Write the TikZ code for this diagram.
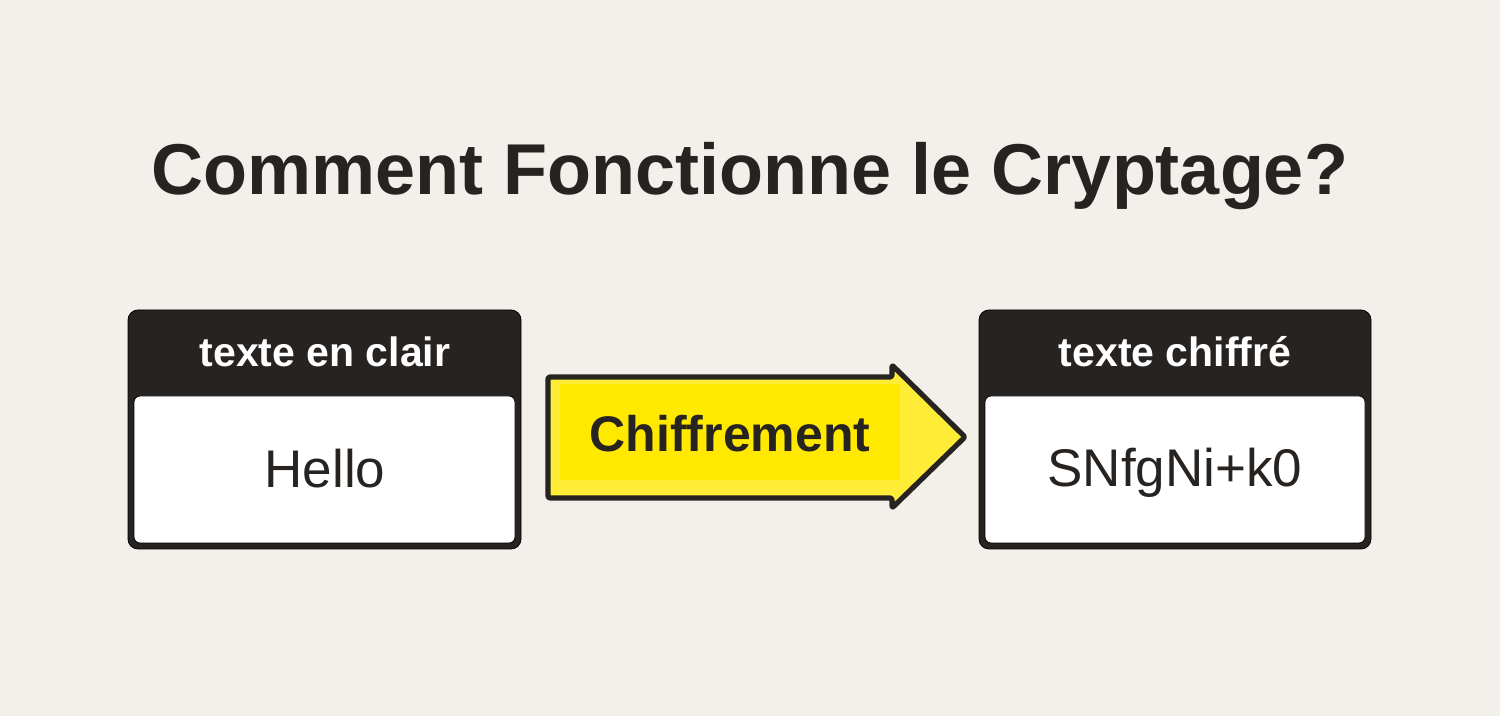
\documentclass[tikz,border=0pt]{standalone}
\usepackage{fontspec}
\setmainfont{Liberation Sans}
\definecolor{fond}{HTML}{F3F0EB}
\definecolor{encre}{HTML}{262321}
\definecolor{jaune}{HTML}{FFE900}
\definecolor{jauneclair}{HTML}{FFEC36}
\tikzset{
  boite/.style={fill=encre, rounded corners=5pt},
  corps/.style={fill=white, rounded corners=3pt},
  entete/.style={text=white, anchor=base, font=\fontsize{20.5}{24}\selectfont\bfseries},
  contenu/.style={text=encre, anchor=base, font=\fontsize{26.5}{30}\selectfont},
}

\begin{document}
\begin{tikzpicture}[x=0.5pt, y=-0.5pt]
			%%%%% FOND %%%%%
			\fill[fond] (0, 0) rectangle (1500, 716);
			\useasboundingbox (0, 0) rectangle (1500, 716);
			
			\node[text=encre, anchor=base, font=\fontsize{36}{40}\selectfont\bfseries] (titre) at (750, 195) {Comment Fonctionne le Cryptage?};
			
			%%%%% TEXTE EN CLAIR %%%%%
			\draw[boite] (128, 310) rectangle (521, 549);
			\draw[corps] (134, 396) rectangle (515, 543);
			\node[entete] (clair) at (325, 367) {texte en clair};
			\node[contenu] (hello) at (325, 488) {Hello};
			
			%%%%% FLECHE %%%%%
			\coordinate (queue) at (548, 437);
			\coordinate (pointe) at (965, 437);
			\draw[fill=jauneclair, draw=encre, line width=2.6pt, line join=round, rounded corners=1pt]
				(548, 377) -- (892, 377) -- (892, 365) -- (pointe) -- (892, 508) -- (892, 498) -- (548, 498) -- cycle;
			\fill[jaune] (560, 384) rectangle (900, 480);
			\node[text=encre, anchor=base, font=\fontsize{25}{30}\selectfont\bfseries] (chiff) at (730, 452) {Chiffrement};
			
			%%%%% TEXTE CHIFFRE %%%%%
			\draw[boite] (979, 310) rectangle (1371, 549);
			\draw[corps] (985, 396) rectangle (1365, 543);
			\node[entete] (chiffre) at (1175, 367) {texte chiffré};
			\node[contenu] (code) at (1175, 487) {SNfgNi+k0};
			
			%%%%% FIN %%%%%
		\end{tikzpicture}
\end{document}
